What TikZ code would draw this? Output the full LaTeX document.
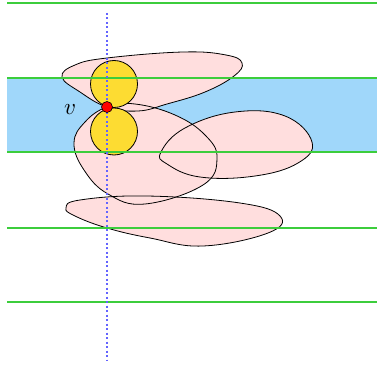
\documentclass[tikz,border=0pt]{standalone}
\usetikzlibrary{calc}
\definecolor{bandblue}{RGB}{160,215,250}
\definecolor{blobpink}{RGB}{255,222,222}
\definecolor{lime}{RGB}{60,205,60}
\definecolor{diskyellow}{RGB}{253,220,50}
\definecolor{axisblue}{RGB}{100,100,255}
\tikzset{
  blobline/.style={draw=black, line width=0.8pt},
  greenline/.style={draw=lime, line width=1.3pt},
  disk/.style={circle, draw=black, fill=diskyellow, line width=0.8pt, minimum size=47pt, inner sep=0pt},
  vertex/.style={circle, draw=black, fill=red, line width=0.6pt, minimum size=11pt, inner sep=0pt},
}
\begin{document}
\begin{tikzpicture}[x=1pt,y=-1pt]
\useasboundingbox (0,0) rectangle (377,366);
% band
\fill[bandblue] (7,78) rectangle (377,152);
% blobs
\def\blobA{plot[smooth cycle, tension=0.7] coordinates {(107,107) (80,92) (62,77) (75,65) (107,58) (183,52) (226,55) (242,63) (234,76) (205,92) (167,104) (138,111)}}
\def\blobB{plot[smooth cycle, tension=0.7] coordinates {(107,107) (135,104) (175,115) (205,135) (217,158) (203,185) (145,204) (108,194) (84,170) (74,143) (85,122)}}
\def\blobC{plot[smooth cycle, tension=0.7] coordinates {(161,152) (185,128) (235,112) (285,116) (312,142) (298,163) (255,176) (200,177) (167,164)}}
\def\blobD{plot[smooth cycle, tension=0.7] coordinates {(66,208) (80,200) (147,196) (240,203) (280,216) (268,233) (203,246) (150,238) (107,228) (75,216)}}
\fill[blobpink] \blobA;
\fill[blobpink] \blobB;
\fill[blobpink] \blobC;
\fill[blobpink] \blobD;
\draw[blobline] \blobA;
\draw[blobline] \blobB;
\draw[blobline] \blobC;
\draw[blobline] \blobD;
% disks
\node[disk] (d1) at (114,84) {};
\node[disk] (d2) at (114,131.5) {};
% green lines
\foreach \y in {3,78,152,228,302} {
  \draw[greenline] (7,\y) -- (377,\y);
}
% dotted axis
\coordinate (axT) at (107,13);
\coordinate (axB) at (107,360);
\draw[axisblue, line width=1.2pt, dash pattern=on 2pt off 2.5pt] (axT) -- (axB);
% vertex
\node[vertex] (v) at (107,107) {};
\node[scale=2.3] (vl) at (70,110) {$v$};
\end{tikzpicture}
\end{document}
